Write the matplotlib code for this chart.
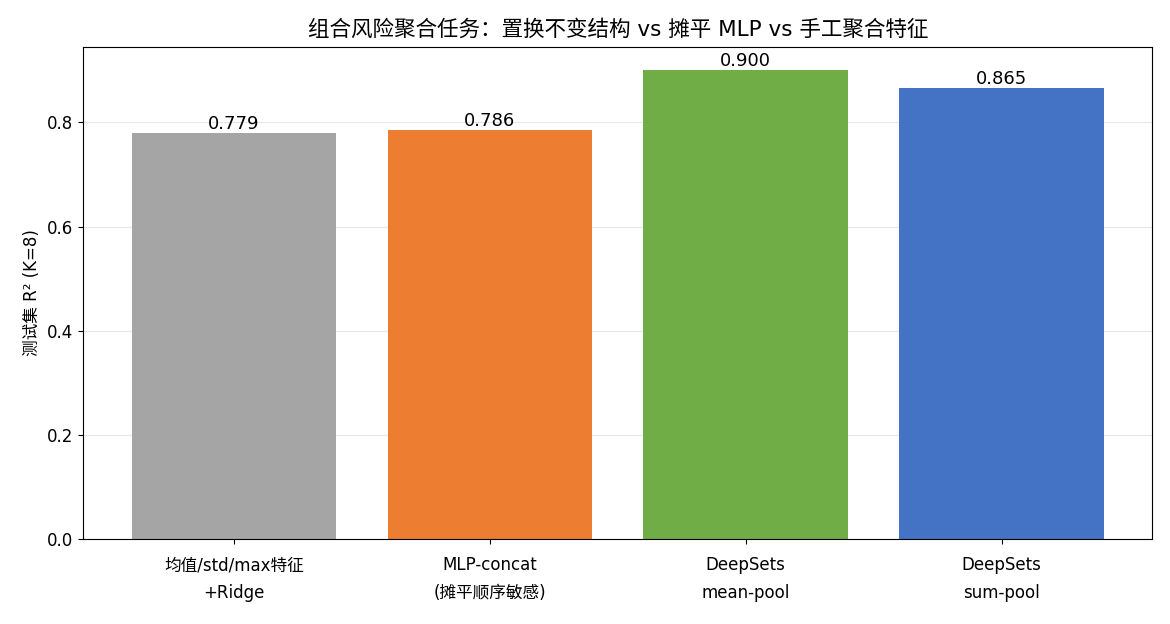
import matplotlib
matplotlib.use("Agg")
import matplotlib.pyplot as plt

plt.rcParams['font.family'] = ['DejaVu Sans', 'Noto Sans CJK SC']
plt.rcParams['axes.unicode_minus'] = False

models = ["均值/std/max特征\n+Ridge", "MLP-concat\n(摊平顺序敏感)", "DeepSets\nmean-pool", "DeepSets\nsum-pool"]
r2 = [0.779, 0.786, 0.900, 0.865]
colors = ["#A5A5A5", "#ED7D31", "#70AD47", "#4472C4"]

fig, ax = plt.subplots(figsize=(11.7, 6.24), dpi=100)

bars = ax.bar(range(len(models)), r2, color=colors, width=0.8, zorder=2)
for b, v in zip(bars, r2):
    ax.text(b.get_x() + b.get_width() / 2, v, f"{v:.3f}", ha="center", va="bottom", fontsize=13)

ax.set_xticks(range(len(models)))
ax.set_xticklabels(models, fontsize=12, linespacing=1.65)
ax.set_ylim(0, max(r2) * 1.05)
ax.set_ylabel("测试集 R² (K=8)", fontsize=12)
ax.set_title("组合风险聚合任务：置换不变结构 vs 摊平 MLP vs 手工聚合特征", fontsize=15.5, pad=8)
ax.grid(axis="y", alpha=0.3, zorder=0)
ax.tick_params(axis="both", labelsize=12)
ax.tick_params(axis="x", pad=9)

plt.subplots_adjust(left=0.071, right=0.985, top=0.925, bottom=0.136)
plt.savefig("out.png")
